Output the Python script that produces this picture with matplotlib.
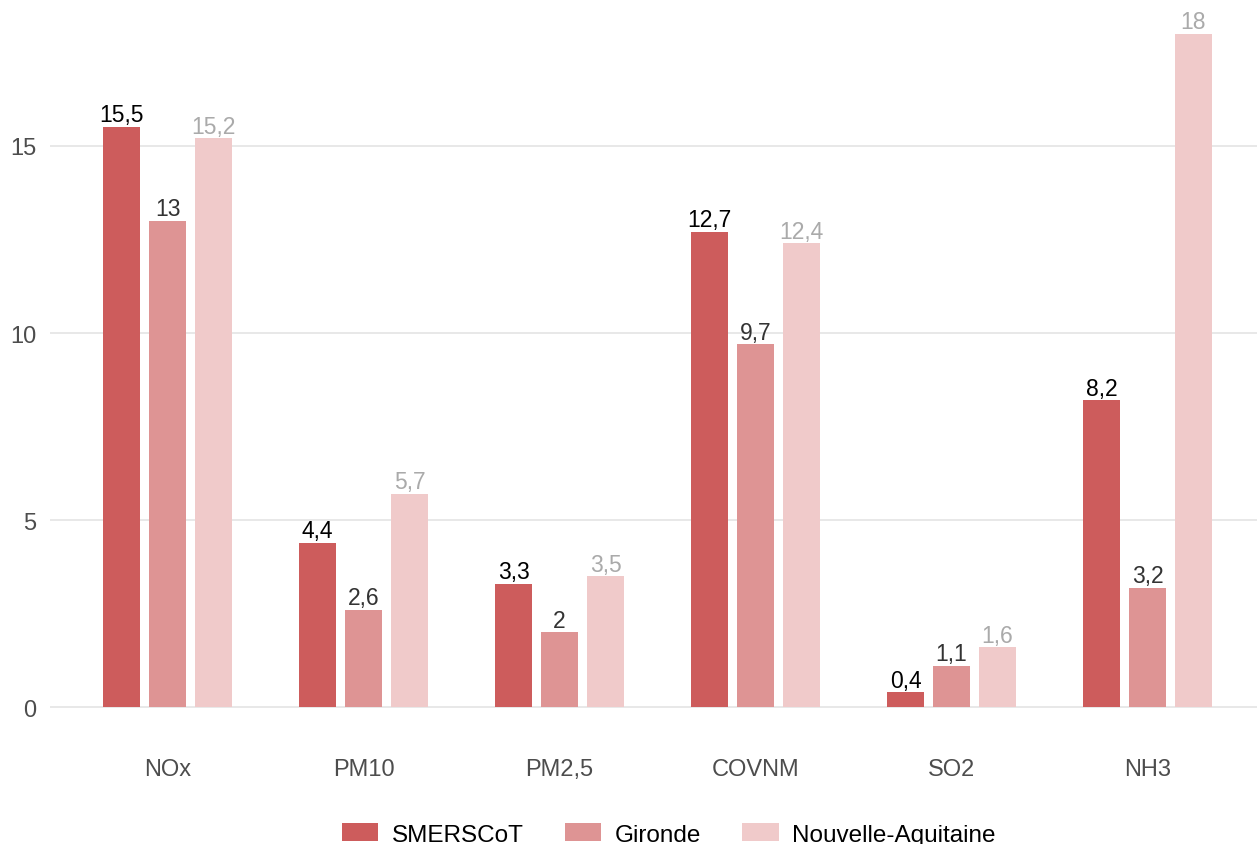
import matplotlib.pyplot as plt
import numpy as np

plt.rcParams['font.family'] = ['Liberation Sans', 'DejaVu Sans']

polluants = ['NOx', 'PM10', 'PM2,5', 'COVNM', 'SO2', 'NH3']
smerscot = [15.5, 4.4, 3.3, 12.7, 0.4, 8.2]
gironde = [13, 2.6, 2, 9.7, 1.1, 3.2]
nouvelle_aquitaine = [15.2, 5.7, 3.5, 12.4, 1.6, 18]

series = [
    ('SMERSCoT', smerscot, '#cd5c5c', 'black'),
    ('Gironde', gironde, '#de9494', '#333333'),
    ('Nouvelle-Aquitaine', nouvelle_aquitaine, '#f0caca', '#aaaaaa'),
]

def fmt(v):
    s = f'{v:g}'
    return s.replace('.', ',')

fig = plt.figure(figsize=(12.57, 8.45), dpi=100)
ax = fig.add_axes([50 / 1257, 1 - 742 / 845, 1215 / 1257, 741 / 845])

x = np.arange(len(polluants))
step = 46 / 196
width = 37 / 196
for i, (nom, vals, col, tcol) in enumerate(series):
    pos = x + (i - 1) * step
    ax.bar(pos, vals, width=width, color=col, label=nom, zorder=2)
    for px, v in zip(pos, vals):
        ax.text(px, v + 0.02, fmt(v), ha='center', va='bottom',
                fontsize=16.5, color=tcol, zorder=3)

ax.set_xlim(-0.6, len(polluants) - 0.4)
ax.set_ylim(-0.9, 18.9)
ax.set_yticks([0, 5, 10, 15])
ax.set_xticks(x)
ax.set_xticklabels(polluants)
ax.tick_params(axis='both', length=0, labelsize=17, labelcolor='#4d4d4d')
ax.tick_params(axis='x', pad=12)
ax.tick_params(axis='y', pad=10)
ax.grid(axis='y', color='#e6e6e6', linewidth=1.3, zorder=0)
for s in ax.spines.values():
    s.set_visible(False)

fig.legend(loc='lower center', bbox_to_anchor=(0.532, -0.028), ncol=3,
           frameon=False, fontsize=17.5, handlelength=1.5, handleheight=0.75,
           columnspacing=1.7, handletextpad=0.55)

fig.savefig('out.png', dpi=100)
